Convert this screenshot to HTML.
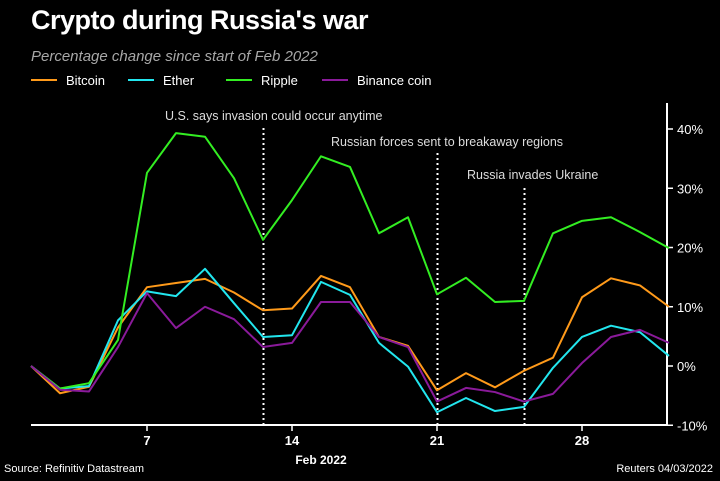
<!DOCTYPE html>
<html><head><meta charset="utf-8"><style>
html,body{margin:0;padding:0;background:#000;}
body{width:720px;height:481px;overflow:hidden;font-family:"Liberation Sans",sans-serif;color:#fff;position:relative;}
.t{position:absolute;white-space:nowrap;}
</style></head><body>
<div class="t" style="left:31px;top:5px;font-size:27px;font-weight:bold;letter-spacing:-0.5px;">Crypto during Russia's war</div>
<div class="t" style="left:31px;top:48px;font-size:15px;font-style:italic;color:#a8a8a8;">Percentage change since start of Feb 2022</div>
<svg id="chart" width="720" height="481" style="position:absolute;left:0;top:0" font-family="Liberation Sans, sans-serif"></svg>
<script>
const xIndex = [0,1,2,3,4,5,6,7,8,9,10,11,12,13,14,15,16,17,18,19,20,21,22];
const xTickIdx = [4,9,14,19];
const xTickLabels = ["7","14","21","28"];
const yTicks = [-10,0,10,20,30,40];
const seriesNames = ["Bitcoin","Ether","Ripple","Binance coin"];
const seriesColors = ["#ff9a1a","#22e6ee","#33ee22","#8a1a9a"];
const bitcoin = [0,-4.6,-3.5,6.5,13.3,14,14.7,12.4,9.4,9.7,15.2,13.3,4.9,3.4,-4.1,-1.2,-3.6,-0.8,1.4,11.6,14.8,13.6,10];
const ether = [0,-3.8,-3.4,7.7,12.6,11.8,16.4,10.6,4.9,5.2,14.2,12,3.9,-0.1,-7.8,-5.4,-7.6,-6.9,-0.3,4.9,6.8,5.7,1.7];
const ripple = [0,-3.8,-2.9,4.4,32.6,39.3,38.7,31.7,21.3,28,35.4,33.6,22.4,25.1,12.1,14.9,10.8,11,22.4,24.5,25.1,22.6,19.9];
const binance = [0,-4,-4.3,3.2,12.3,6.4,10,7.9,3.2,3.9,10.8,10.8,4.9,3.2,-6,-3.7,-4.4,-6,-4.7,0.5,4.9,6.1,3.9];
const eventIdx = [8,14,17];
const eventLabels = ["U.S. says invasion could occur anytime","Russian forces sent to breakaway regions","Russia invades Ukraine"];
const eventTop = [128,153,188];
const eventTextPos = [[165,120],[331,146],[467,179]];

const NS="http://www.w3.org/2000/svg";
const svg=document.getElementById('chart');
const X=i=>31+i*(638/22);
const Y=v=>366-v*5.925;
function mk(tag,attrs,parent){const e=document.createElementNS(NS,tag);for(const k in attrs)e.setAttribute(k,attrs[k]);(parent||svg).appendChild(e);return e;}

// legend
const legX=[31,128,226,322];
seriesNames.forEach((n,k)=>{
  const g=mk('g',{});
  
  
  mk('line',{x1:legX[k],x2:legX[k]+26,y1:80,y2:80,stroke:seriesColors[k],'stroke-width':2},g);
  const t=mk('text',{x:legX[k]+35,y:85,fill:'#fff','font-size':13},g);t.textContent=n;
});

// axes
const xa=mk('line',{x1:31,x2:668,y1:425,y2:425,stroke:'#fff','stroke-width':2});


const ya=mk('line',{x1:667,x2:667,y1:103,y2:426,stroke:'#fff','stroke-width':2});


yTicks.forEach(v=>{
  mk('line',{x1:667,x2:673,y1:Y(v),y2:Y(v),stroke:'#fff','stroke-width':1.5});
  const t=mk('text',{x:677,y:Y(v)+5,fill:'#fff','font-size':13});t.textContent=v+'%';
  
  
});
xTickIdx.forEach((i,k)=>{
  mk('line',{x1:X(i),x2:X(i),y1:425,y2:431,stroke:'#fff','stroke-width':1.5});
  const t=mk('text',{x:X(i),y:445,fill:'#fff','font-size':13,'font-weight':'bold','text-anchor':'middle'});t.textContent=xTickLabels[k];
  
  
});
const xt=mk('text',{x:321,y:464,fill:'#fff','font-size':12,'font-weight':'bold','text-anchor':'middle'});xt.textContent='Feb 2022';



// events
eventIdx.forEach((i,k)=>{
  const l=mk('line',{x1:X(i)+0.5,x2:X(i)+0.5,y1:eventTop[k],y2:425,stroke:'#fff','stroke-width':2,'stroke-dasharray':'2,3'});
  
  
  const t=mk('text',{x:eventTextPos[k][0],y:eventTextPos[k][1],fill:'#ddd','font-size':12.5});t.textContent=eventLabels[k];
  
  
});

// series
[bitcoin,ether,ripple,binance].forEach((d,k)=>{
  const p=mk('polyline',{points:d.map((v,i)=>X(xIndex[i])+','+Y(v)).join(' '),fill:'none',stroke:seriesColors[k],'stroke-width':2,'stroke-linejoin':'round'});
  
  
});
</script>
<div class="t" style="left:4px;top:463px;font-size:11px;">Source: Refinitiv Datastream</div>
<div class="t" style="right:7px;top:463px;font-size:11px;">Reuters 04/03/2022</div>
</body></html>
